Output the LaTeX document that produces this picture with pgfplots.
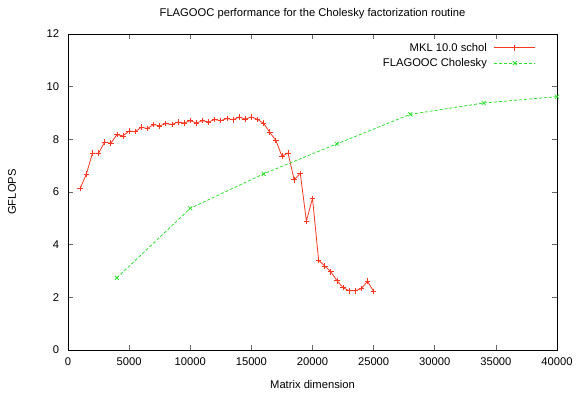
\documentclass[border=0pt]{standalone}
\usepackage{fontspec}
\setmainfont{Liberation Sans}
\usepackage{pgfplots}
\pgfplotsset{compat=1.18}
\definecolor{mklred}{rgb}{0.96,0.22,0.12}
\definecolor{flagreen}{rgb}{0.18,0.88,0.18}
\begin{document}
\fontsize{11.2}{13.2}\selectfont
\begin{tikzpicture}
\path[use as bounding box] (0,0) rectangle (577pt,394pt);
\begin{axis}[
  at={(68pt,44pt)}, anchor=south west,
  scale only axis, width=489pt, height=316pt,
  xmin=0, xmax=40000, ymin=0, ymax=12,
  xtick={0,5000,...,40000}, ytick={0,2,...,12},
  scaled x ticks=false,
  /pgf/number format/1000 sep={},
  /pgf/number format/fixed,
  /pgf/number format/assume math mode=true,
  tick align=inside, major tick length=5pt,
  tick style={black!60, line width=0.6pt},
  axis line style={line width=0.7pt},
  every tick label/.append style={font=\fontsize{11.2}{13.2}\selectfont},
  xticklabel style={yshift=-4pt},
  yticklabel style={xshift=-5pt},
  title={FLAGOOC performance for the Cholesky factorization routine},
  title style={at={(axis description cs:0.5,1.0443)}, anchor=center},
  xlabel={Matrix dimension},
  xlabel style={at={(axis description cs:0.5,-0.1076)}, anchor=center},
  ylabel={GFLOPS},
  ylabel style={at={(axis description cs:-0.1145,0.5)}, anchor=center},
  legend style={at={(axis description cs:0.963,0.985)}, anchor=north east, draw=none, fill=none,
    font=\fontsize{11.2}{13.2}\selectfont, row sep=1.5pt, /tikz/column sep=5pt},
  legend cell align=right,
  legend plot pos=right,
  legend image code/.code={\draw[#1] (0cm,0cm) -- (1.44cm,0cm); \draw[#1, only marks] plot coordinates {(0.72cm,0cm)};},
]
\addplot[draw=mklred, color=mklred, line width=0.8pt, mark=+, mark size=2.8pt, mark options={solid, draw=mklred}] coordinates {
(1000,6.14) (1500,6.68) (2000,7.47) (2500,7.47) (3000,7.90) (3500,7.85)
(4000,8.18) (4500,8.13) (5000,8.32) (5500,8.29) (6000,8.46) (6500,8.41)
(7000,8.56) (7500,8.51) (8000,8.60) (8500,8.56) (9000,8.66) (9500,8.62)
(10000,8.71) (10500,8.62) (11000,8.71) (11500,8.66) (12000,8.75) (12500,8.71)
(13000,8.79) (13500,8.74) (14000,8.85) (14500,8.77) (15000,8.85) (15500,8.76)
(16000,8.61) (16500,8.27) (17000,7.96) (17500,7.36) (18000,7.48) (18500,6.46)
(19000,6.71) (19500,4.90) (20000,5.76) (20500,3.41) (21000,3.19) (21500,2.97)
(22000,2.63) (22500,2.37) (23000,2.25) (23500,2.25) (24000,2.33) (24500,2.61)
(25000,2.22)
};
\addlegendentry{MKL 10.0 schol}
\addplot[draw=flagreen, color=flagreen, line width=0.8pt, dash pattern=on 3pt off 2pt, mark=x, mark size=2.8pt, mark options={solid, draw=flagreen}] coordinates {
(4000,2.74) (10000,5.38) (16000,6.69) (22000,7.83) (28000,8.95) (34000,9.38) (40000,9.62)
};
\addlegendentry{FLAGOOC Cholesky}
\end{axis}
\end{tikzpicture}
\end{document}
